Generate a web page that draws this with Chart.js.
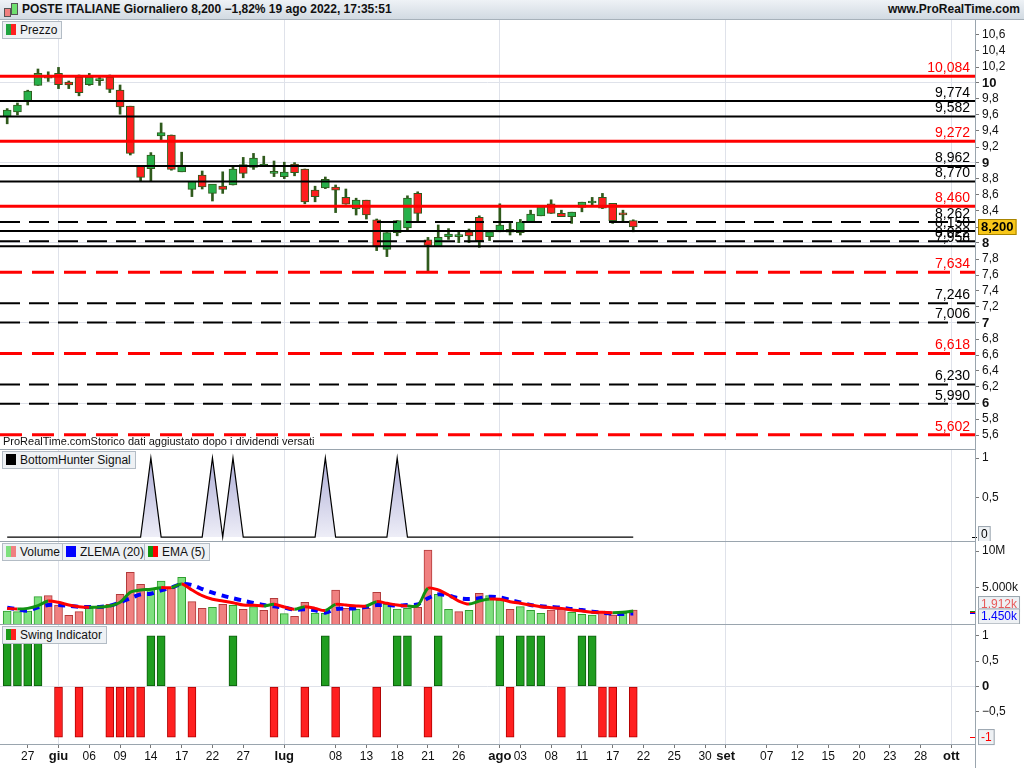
<!DOCTYPE html>
<html lang="it">
<head>
<meta charset="UTF-8">
<title>POSTE ITALIANE Giornaliero</title>
<script src="https://cdn.jsdelivr.net/npm/chart.js"></script>
<style>
  body { margin: 0; width: 1024px; height: 768px; overflow: hidden; background: #fff;
         font-family: "Liberation Sans", Arial, sans-serif; position: relative; }
  .top { position: absolute; left: 0; top: 0; width: 1024px; height: 19px;
         background: linear-gradient(#eef2f6, #d2dae2); border-bottom: 1px solid #a7b1ba;
         font-weight: bold; font-size: 12px; line-height: 19px; color: #111; }
  .top .l { position: absolute; left: 22px; }
  .top .r { position: absolute; right: 4px; }
  .ico { position: absolute; top: 4px; width: 5px; border: 1px solid #555; }
  canvas { position: absolute; left: 0; }
  .sep { position: absolute; left: 0; width: 975px; height: 1px; background: #9aa5ae; }
  .vsep { position: absolute; left: 975px; top: 20px; width: 1px; height: 748px; background: #9aa5ae; }
  .leg { position: absolute; height: 16px; line-height: 16px; font-size: 12px; color: #111;
         background: #eef1f4; border: 1px solid #b3bcc5; padding: 0 4px 0 3px; white-space: nowrap; }
  .sw { display: inline-block; width: 5px; height: 11px; vertical-align: -1px; }
  .note { position: absolute; left: 3px; top: 435px; font-size: 11px; color: #111; }
</style>
</head>
<body>

<div class="top">
  <span class="ico" style="left:4px;top:8px;height:7px;background:#f08080"></span>
  <span class="ico" style="left:11px;top:3px;height:10px;background:#6fe06f"></span>
  <span class="l">POSTE ITALIANE Giornaliero 8,200 −1,82% 19 ago 2022, 17:35:51</span>
  <span class="r">www.ProRealTime.com</span>
</div>

<canvas id="cPrice" width="1024" height="420" style="top:20px"></canvas>
<canvas id="cBH" width="1024" height="92" style="top:449px"></canvas>
<canvas id="cVol" width="1024" height="83" style="top:541px"></canvas>
<canvas id="cSwing" width="1024" height="144" style="top:624px"></canvas>

<div class="sep" style="top:449px"></div>
<div class="sep" style="top:541px"></div>
<div class="sep" style="top:624px"></div>
<div class="vsep"></div>

<div class="note">ProRealTime.comStorico dati aggiustato dopo i dividendi versati</div>

<div class="leg" style="left:2px;top:21px"><span class="sw" style="background:#1fa33f"></span><span class="sw" style="background:#ff1f1f;margin-right:4px"></span>Prezzo</div>
<div class="leg" style="left:2px;top:451px"><span class="sw" style="background:#000;width:10px;margin-right:4px"></span>BottomHunter Signal</div>
<div class="leg" style="left:2px;top:543px"><span class="sw" style="background:#7ee07e"></span><span class="sw" style="background:#f08080;margin-right:4px"></span>Volume</div>
<div class="leg" style="left:62px;top:543px"><span class="sw" style="background:#0000ff;width:10px;margin-right:4px"></span>ZLEMA (20)</div>
<div class="leg" style="left:144px;top:543px"><span class="sw" style="background:#129212"></span><span class="sw" style="background:#ff0000;margin-right:4px"></span>EMA (5)</div>
<div class="leg" style="left:2px;top:626px"><span class="sw" style="background:#1a9a1a"></span><span class="sw" style="background:#ff1f1f;margin-right:4px"></span>Swing Indicator</div>

<script>
// daily bars, 25 mag -> 19 ago 2022 (index = trading day)
const open  = [9.58, 9.64, 9.77, 9.97, 10.06, 10.12, 10.01, 10.07, 9.98, 10.03,
               10.07, 9.91, 9.71, 8.97, 8.93, 9.34, 9.35, 8.89, 8.67, 8.85,
               8.62, 8.71, 8.725, 8.98, 8.945, 8.955, 8.87, 8.83, 8.985, 8.925,
               8.66, 8.69, 8.70, 8.57, 8.425, 8.535, 8.29, 7.92, 8.13, 8.19,
               8.62, 8.04, 7.955, 8.08, 8.08, 8.14, 8.32, 8.08, 8.14, 8.17,
               8.13, 8.265, 8.34, 8.49, 8.37, 8.33, 8.445, 8.50, 8.57, 8.495,
               8.36, 8.28];
const high  = [9.68, 9.75, 9.91, 10.175, 10.14, 10.195, 10.025, 10.10, 10.12, 10.08,
               10.10, 9.975, 9.71, 8.97, 9.13, 9.50, 9.35, 9.135, 8.77, 8.90,
               8.73, 8.89, 8.96, 9.07, 9.12, 9.085, 9.025, 9.01, 9.005, 8.925,
               8.71, 8.825, 8.725, 8.675, 8.56, 8.535, 8.30, 8.13, 8.28, 8.59,
               8.64, 8.07, 8.225, 8.18, 8.15, 8.175, 8.34, 8.14, 8.49, 8.245,
               8.295, 8.41, 8.46, 8.54, 8.41, 8.385, 8.51, 8.57, 8.62, 8.495,
               8.41, 8.29];
const low   = [9.49, 9.60, 9.725, 9.97, 10.02, 9.93, 9.93, 9.84, 9.97, 9.97,
               9.88, 9.61, 9.10, 8.775, 8.775, 9.275, 8.91, 8.89, 8.58, 8.675,
               8.525, 8.62, 8.725, 8.815, 8.92, 8.955, 8.83, 8.805, 8.84, 8.49,
               8.515, 8.68, 8.38, 8.485, 8.35, 8.30, 7.905, 7.83, 8.09, 8.16,
               8.27, 7.634, 7.955, 8.045, 8.005, 8.005, 7.945, 8.03, 8.14, 8.10,
               8.10, 8.265, 8.34, 8.37, 8.33, 8.245, 8.39, 8.475, 8.43, 8.245,
               8.255, 8.14];
const close = [9.66, 9.725, 9.90, 10.12, 10.08, 9.98, 9.975, 9.88, 10.07, 10.05,
               9.92, 9.70, 9.12, 8.82, 9.10, 9.38, 8.92, 8.975, 8.77, 8.70,
               8.735, 8.67, 8.925, 8.87, 9.06, 8.985, 8.875, 8.885, 8.88, 8.515,
               8.58, 8.795, 8.66, 8.485, 8.535, 8.35, 7.95, 8.13, 8.28, 8.56,
               8.37, 7.97, 8.07, 8.11, 8.085, 8.09, 8.03, 8.14, 8.225, 8.135,
               8.26, 8.36, 8.455, 8.37, 8.33, 8.385, 8.51, 8.52, 8.435, 8.28,
               8.352, 8.20];

// volume in millions, 1 = up day (green), 0 = down day (red)
const volume = [1.78, 1.69, 1.78, 3.74, 3.88, 2.6, 1.19, 1.69, 2.15, 2.15,
                2.7, 4.07, 7.08, 5.43, 4.89, 5.89, 4.89, 6.39, 3.06, 2.15,
                2.28, 2.7, 2.56, 2.01, 2.37, 1.87, 3.52, 1.42, 1.05, 2.97,
                1.51, 1.46, 4.66, 2.15, 2.01, 2.15, 4.34, 2.7, 2.05, 2.15,
                2.28, 10.14, 4.06, 2.01, 1.69, 1.87, 4.2, 3.88, 3.29, 2.01,
                2.37, 1.87, 1.46, 1.92, 2.05, 1.6, 1.32, 1.23, 1.69, 1.23,
                1.46, 1.912];
const volUp = [1, 1, 1, 1, 0, 0, 0, 0, 1, 0,
               0, 0, 0, 0, 1, 1, 0, 1, 0, 0,
               1, 0, 1, 0, 1, 0, 0, 1, 0, 0,
               1, 1, 0, 0, 1, 0, 0, 1, 1, 1,
               0, 0, 1, 1, 0, 1, 0, 1, 1, 0,
               1, 1, 1, 0, 0, 1, 1, 1, 0, 0,
               1, 0];
const zlema20 = [2.24, 2.01, 1.83, 2.28, 2.6, 2.6, 2.51, 2.37, 2.33, 2.33,
                 2.51, 2.97, 3.52, 4.06, 4.15, 4.61, 4.98, 5.48, 5.34, 4.79,
                 4.29, 3.88, 3.52, 3.2, 2.88, 2.6, 2.42, 2.24, 1.96, 2.01,
                 1.87, 1.55, 2.05, 2.14, 2.14, 2.37, 2.6, 2.6, 2.51, 2.6,
                 2.69, 3.52, 4.06, 3.88, 3.52, 3.42, 3.52, 3.74, 3.65, 3.29,
                 2.97, 2.6, 2.42, 2.33, 2.24, 2.05, 1.92, 1.69, 1.55, 1.42,
                 1.37, 1.45];
const ema5 = [2.14, 2.05, 2.14, 2.51, 3.15, 2.97, 2.6, 2.37, 2.28, 2.33,
              2.47, 2.97, 4.34, 4.66, 4.75, 4.98, 4.98, 5.48, 4.66, 3.88,
              3.38, 3.15, 2.92, 2.6, 2.56, 2.47, 2.69, 2.33, 2.01, 2.37,
              2.14, 1.85, 2.69, 2.6, 2.47, 2.47, 3.06, 2.83, 2.6, 2.47,
              2.51, 4.89, 4.66, 3.97, 3.15, 2.74, 3.15, 3.42, 3.38, 3.06,
              2.83, 2.6, 2.37, 2.24, 2.14, 1.92, 1.78, 1.6, 1.6, 1.55,
              1.6, 1.78];

const bottomHunter = [0, 0, 0, 0, 0, 0, 0, 0, 0, 0,
                      0, 0, 0, 0, 1, 0, 0, 0, 0, 0,
                      1, 0, 1, 0, 0, 0, 0, 0, 0, 0,
                      0, 1, 0, 0, 0, 0, 0, 0, 1, 0,
                      0, 0, 0, 0, 0, 0, 0, 0, 0, 0,
                      0, 0, 0, 0, 0, 0, 0, 0, 0, 0,
                      0, 0];
const swing = [1, 1, 1, 1, 0, -1, 0, -1, 0, 0,
               -1, -1, -1, -1, 1, 1, -1, 0, -1, 0,
               0, 0, 1, 0, 0, 0, -1, 0, 0, -1,
               0, 1, -1, 0, 0, 0, -1, 0, 1, 1,
               0, -1, 1, 0, 0, 0, 0, 0, 1, -1,
               1, 1, 1, 0, -1, 0, 1, 1, -1, -1,
               0, -1];

// support / resistance levels
const levels      = [10.084, 9.774, 9.582, 9.272, 8.962, 8.770, 8.460, 8.262, 8.150,
                     8.022, 7.958, 7.634, 7.246, 7.006, 6.618, 6.230, 5.990, 5.602];
const levelRed    = [1, 0, 0, 1, 0, 0, 1, 0, 0, 0, 0, 1, 0, 0, 1, 0, 0, 1];
const levelDashed = [0, 0, 0, 0, 0, 0, 0, 1, 0, 1, 0, 1, 1, 1, 1, 1, 1, 1];

// axes
const priceTicks = [5.6, 5.8, 6, 6.2, 6.4, 6.6, 6.8, 7, 7.2, 7.4, 7.6, 7.8, 8, 8.2, 8.4,
                    8.6, 8.8, 9, 9.2, 9.4, 9.6, 9.8, 10, 10.2, 10.4, 10.6];
const bhTicks = [0.5, 1];
const volTicks = [5, 10];
const volTickLabels = ['5.000k', '10M'];
const swingTicks = [-0.5, 0, 0.5, 1];
const xTickIdx = [2, 5, 8, 11, 14, 17, 20, 23, 27, 32, 35, 38, 41, 44, 48, 50, 53, 56, 59,
                  62, 65, 68, 70, 74, 77, 80, 83, 86, 89, 92];
const xTickLabels = ['27', 'giu', '06', '09', '14', '17', '22', '27', 'lug', '08', '13', '18',
                     '21', '26', 'ago', '03', '08', '11', '17', '22', '25', '30', 'set', '07',
                     '12', '15', '20', '23', '28', 'ott'];
const monthIdx = [5, 27, 48, 70, 92];

const X_MIN = -0.7, X_MAX = 94.3;
const GREEN = '#27b04a', RED = '#ff1f1f', WICK = '#2f5a1c';
const GRIDC = '#dfe2ea';
const NONE = 'rgba(0,0,0,0)';
const FONT = '"Liberation Sans", Arial, sans-serif';
Chart.defaults.font.family = FONT;
Chart.defaults.color = '#111';

const tv = c => (c && c.tick) ? c.tick.value : NaN;
const fmt = v => Number.isInteger(v) ? String(v) : String(v).replace('.', ',').replace('-', '−');

function xAxis() {
  return {
    type: 'linear', min: X_MIN, max: X_MAX, offset: false,
    border: { display: false },
    grid: { offset: false, color: c => monthIdx.includes(tv(c)) ? GRIDC : NONE, drawTicks: false },
    ticks: { display: false },
    afterBuildTicks: s => { s.ticks = monthIdx.map(v => ({ value: v })); },
    afterFit: s => { s.height = 0; s.paddingLeft = 0; s.paddingRight = 0; }
  };
}

function yAxis(min, max, tickVals, extra) {
  return Object.assign({
    position: 'right', min, max,
    afterFit: s => { s.width = 49; s.paddingTop = 0; s.paddingBottom = 0; },
    afterBuildTicks: s => { s.ticks = tickVals.map(v => ({ value: v })); },
    border: { color: '#9aa5ae' },
    grid: { drawOnChartArea: false, tickLength: 4, tickColor: '#777' },
    ticks: { autoSkip: false, padding: 3, color: '#111', font: { size: 12 }, callback: v => fmt(v) }
  }, extra);
}

function baseOptions(scales) {
  return {
    responsive: false, animation: false,
    layout: { padding: 0 },
    plugins: { legend: { display: false }, tooltip: { enabled: false } },
    scales
  };
}

function tag(ctx, x, y, text, bg, fg, border, bold) {
  ctx.save();
  ctx.font = (bold ? 'bold 13px ' : '12px ') + FONT;
  const w = ctx.measureText(text).width + 6;
  ctx.fillStyle = bg;
  ctx.fillRect(x, y - 8, w, 16);
  ctx.strokeStyle = border;
  ctx.lineWidth = 1;
  ctx.strokeRect(x + 0.5, y - 7.5, w - 1, 15);
  ctx.fillStyle = fg;
  ctx.textBaseline = 'middle';
  ctx.textAlign = 'left';
  ctx.fillText(text, x + 3, y + 0.5);
  ctx.restore();
}

// ---------------- price ----------------
const idx = close.map((_, i) => i);
const levelSets = levels.map((v, k) => ({
  type: 'line',
  data: [{ x: X_MIN, y: v }, { x: X_MAX, y: v }],
  borderColor: levelRed[k] ? '#ff0000' : '#000',
  borderWidth: levelRed[k] ? 3 : 2,
  borderDash: levelDashed[k] ? (levelRed[k] ? [22, 10] : [20, 9]) : [],
  pointRadius: 0,
  order: 0
}));

const levelLabels = {
  id: 'levelLabels',
  afterDatasetsDraw(chart) {
    const { ctx, chartArea, scales } = chart;
    ctx.save();
    ctx.font = '14px ' + FONT;
    ctx.textAlign = 'right';
    ctx.textBaseline = 'bottom';
    levels.forEach((v, k) => {
      const y = scales.y.getPixelForValue(v);
      ctx.fillStyle = levelRed[k] ? '#ff0000' : '#000';
      ctx.fillText(v.toFixed(3).replace('.', ','), chartArea.right - 5, y - 1);
    });
    ctx.restore();
  },
  afterDraw(chart) {
    const last = close[close.length - 1];
    const y = chart.scales.y.getPixelForValue(last);
    tag(chart.ctx, 978, y, last.toFixed(3).replace('.', ','), '#f7c71a', '#000', '#a88400', true);
  }
};

new Chart(document.getElementById('cPrice'), {
  type: 'bar',
  data: {
    datasets: [
      ...levelSets,
      {
        data: idx.map(i => ({ x: i, y: [open[i], close[i]] })),
        backgroundColor: idx.map(i => close[i] >= open[i] ? GREEN : RED),
        borderColor: WICK, borderWidth: 1, borderSkipped: false,
        barThickness: 8, minBarLength: 2, grouped: false, order: 1
      },
      {
        data: idx.map(i => ({ x: i, y: [low[i], high[i]] })),
        backgroundColor: WICK, borderWidth: 0,
        barThickness: 2, grouped: false, order: 2
      }
    ]
  },
  options: baseOptions({
    x: xAxis(),
    y: yAxis(5.5375, 10.7875, priceTicks, {
      grid: { drawOnChartArea: true, tickLength: 4, tickColor: '#777',
              color: c => Number.isInteger(tv(c)) ? GRIDC : NONE },
      ticks: { autoSkip: false, padding: 3, color: '#111',
               font: c => Number.isInteger(tv(c)) ? { size: 13, weight: 'bold' } : { size: 12 },
               callback: v => fmt(v) }
    })
  }),
  plugins: [levelLabels]
});

// ---------------- BottomHunter ----------------
new Chart(document.getElementById('cBH'), {
  type: 'line',
  data: {
    datasets: [{
      data: idx.map(i => ({ x: i, y: bottomHunter[i] })),
      borderColor: '#000', borderWidth: 1.2, pointRadius: 0, tension: 0,
      fill: { value: 0 },
      backgroundColor: c => {
        const { ctx, chartArea } = c.chart;
        if (!chartArea) return NONE;
        const g = ctx.createLinearGradient(0, chartArea.top, 0, chartArea.bottom);
        g.addColorStop(0, '#a7a7d3');
        g.addColorStop(1, '#f1f1f9');
        return g;
      }
    }]
  },
  options: baseOptions({
    x: xAxis(),
    y: yAxis(-0.05, 1.114, bhTicks)
  }),
  plugins: [{
    id: 'bhTag',
    afterDraw(chart) {
      const y = chart.scales.y.getPixelForValue(bottomHunter[bottomHunter.length - 1]);
      chart.ctx.fillStyle = '#000';
      chart.ctx.fillRect(972, Math.round(y), 5, 1);
      tag(chart.ctx, 978, y - 3, '0', '#eef1f4', '#000', '#9aa5ae', false);
    }
  }]
});

// ---------------- Volume ----------------
new Chart(document.getElementById('cVol'), {
  type: 'bar',
  data: {
    datasets: [
      {
        type: 'line',
        data: idx.map(i => ({ x: i, y: ema5[i] })),
        borderWidth: 3, pointRadius: 0, tension: 0.3,
        borderColor: '#ff0000',
        segment: { borderColor: c => c.p1.parsed.y > c.p0.parsed.y ? '#129212' : '#ff0000' },
        order: 0
      },
      {
        type: 'line',
        data: idx.map(i => ({ x: i, y: zlema20[i] })),
        borderColor: '#0000ff', borderWidth: 4, borderDash: [7, 6],
        pointRadius: 0, tension: 0.3, order: 1
      },
      {
        data: idx.map(i => ({ x: i, y: volume[i] })),
        backgroundColor: idx.map(i => volUp[i] ? '#7ee07e' : '#f08080'),
        borderColor: idx.map(i => volUp[i] ? '#2e9e2e' : '#b23a3a'),
        borderWidth: 1, borderSkipped: 'bottom',
        barThickness: 8, grouped: false, order: 2
      }
    ]
  },
  options: baseOptions({
    x: xAxis(),
    y: yAxis(0, 11.37, volTicks, {
      ticks: { autoSkip: false, padding: 3, color: '#111', font: { size: 12 },
               callback: v => volTickLabels[volTicks.indexOf(v)] }
    })
  }),
  plugins: [{
    id: 'volTags',
    afterDraw(chart) {
      const ctx = chart.ctx, s = chart.scales.y;
      const v = volume[volume.length - 1], z = zlema20[zlema20.length - 1], e = ema5[ema5.length - 1];
      const yv = s.getPixelForValue(v), yz = s.getPixelForValue(z), ye = s.getPixelForValue(e);
      ctx.fillStyle = '#129212'; ctx.fillRect(970, Math.round(ye), 6, 1);
      ctx.fillStyle = '#ff0000'; ctx.fillRect(970, Math.round(ye) + 1, 6, 1);
      ctx.fillStyle = '#0000ff'; ctx.fillRect(970, Math.round(yz), 6, 1);
      tag(ctx, 978, yv - 6, v.toFixed(3) + 'k', '#eef1f4', '#e85a5a', '#9aa5ae', false);
      tag(ctx, 978, yz + 3, z.toFixed(3) + 'k', '#eef1f4', '#0000ff', '#9aa5ae', false);
    }
  }]
});

// ---------------- Swing ----------------
new Chart(document.getElementById('cSwing'), {
  type: 'bar',
  data: {
    datasets: [{
      data: idx.map(i => ({ x: i, y: swing[i] === 0 ? null : swing[i] })),
      backgroundColor: idx.map(i => swing[i] > 0 ? '#1f9d1f' : '#ff2020'),
      borderColor: idx.map(i => swing[i] > 0 ? '#0d5a0d' : '#b00000'),
      borderWidth: 1, borderSkipped: false,
      barThickness: 8, grouped: false
    }]
  },
  options: baseOptions({
    x: {
      type: 'linear', min: X_MIN, max: X_MAX, offset: false,
      position: 'bottom',
      border: { color: '#9aa5ae' },
      grid: { offset: false, color: c => monthIdx.includes(tv(c)) ? GRIDC : NONE,
              tickColor: '#777', tickLength: 4 },
      afterBuildTicks: s => { s.ticks = xTickIdx.map(v => ({ value: v })); },
      afterFit: s => { s.height = 24; s.paddingLeft = 0; s.paddingRight = 0; },
      ticks: {
        autoSkip: false, maxRotation: 0, padding: 1, color: '#111',
        font: c => monthIdx.includes(tv(c)) ? { size: 13, weight: 'bold' } : { size: 12 },
        callback: v => xTickLabels[xTickIdx.indexOf(v)]
      }
    },
    y: yAxis(-1.137, 1.235, swingTicks, {
      grid: { drawOnChartArea: true, tickLength: 4, tickColor: '#777',
              color: c => tv(c) === 0 ? GRIDC : NONE },
      ticks: { autoSkip: false, padding: 3, color: '#111',
               font: c => tv(c) === 0 ? { size: 13, weight: 'bold' } : { size: 12 },
               callback: v => fmt(v) }
    })
  }),
  plugins: [{
    id: 'swTag',
    afterDraw(chart) {
      const last = swing[swing.length - 1];
      const y = chart.scales.y.getPixelForValue(last);
      chart.ctx.fillStyle = '#ff0000';
      chart.ctx.fillRect(970, Math.round(y), 6, 1);
      tag(chart.ctx, 978, y, fmt(last), '#eef1f4', '#ff0000', '#9aa5ae', false);
    }
  }]
});
</script>
</body>
</html>
